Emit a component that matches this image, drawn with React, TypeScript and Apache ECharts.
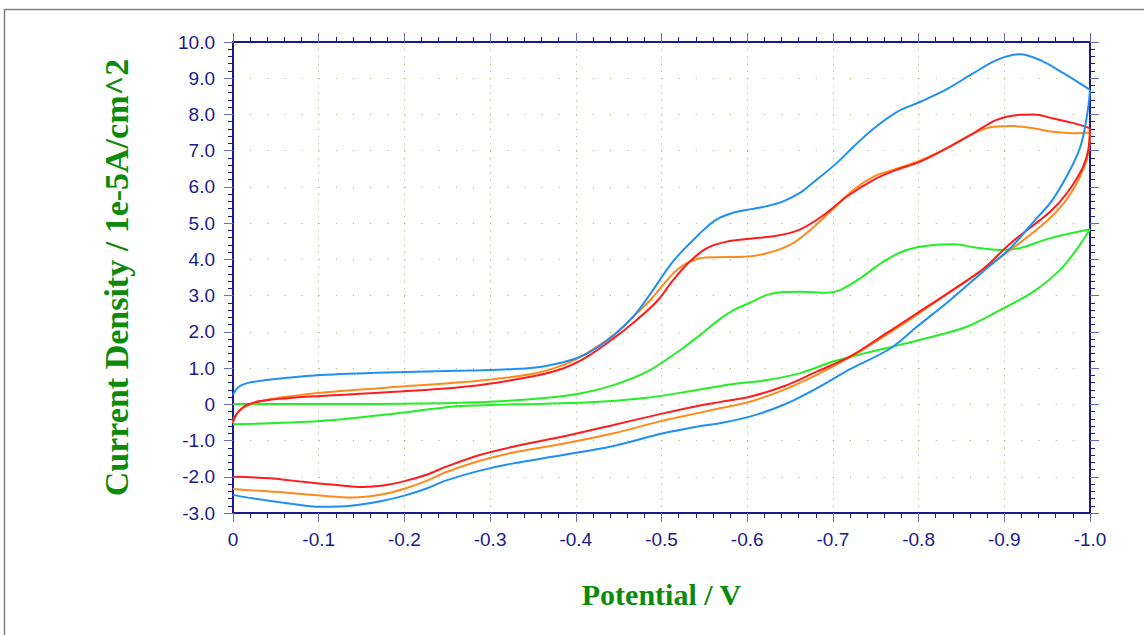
import React, { useEffect, useRef } from "react";
import * as echarts from "echarts";

type Pt = [number, number];

// Cyclic voltammograms: [potential (V), current density (1e-5 A/cm^2)]
// Each scan is split into the forward sweep (0 -> -1.0 V) and the return sweep (-1.0 -> 0 V).

const blueForward: Pt[] = [
  [0, 0.26], [-0.004, 0.42], [-0.01, 0.53], [-0.024, 0.62], [-0.063, 0.73], [-0.102, 0.81],
  [-0.179, 0.88], [-0.273, 0.93], [-0.347, 1.0], [-0.385, 1.16], [-0.413, 1.4], [-0.444, 1.9],
  [-0.467, 2.42], [-0.487, 3.05], [-0.514, 3.96], [-0.545, 4.72], [-0.564, 5.1], [-0.584, 5.29],
  [-0.603, 5.38], [-0.623, 5.47], [-0.642, 5.6], [-0.662, 5.84], [-0.677, 6.12], [-0.704, 6.65],
  [-0.724, 7.11], [-0.747, 7.6], [-0.774, 8.06], [-0.802, 8.35], [-0.833, 8.7], [-0.864, 9.14],
  [-0.891, 9.5], [-0.918, 9.66], [-0.942, 9.5], [-0.969, 9.14], [-1.0, 8.68],
];
const blueReturn: Pt[] = [
  [-1.0, 8.68], [-0.998, 8.21], [-0.992, 7.39], [-0.986, 6.93], [-0.973, 6.3], [-0.955, 5.6],
  [-0.936, 5.09], [-0.907, 4.31], [-0.876, 3.68], [-0.837, 2.88], [-0.798, 2.14], [-0.767, 1.54],
  [-0.72, 0.97], [-0.681, 0.44], [-0.642, -0.02], [-0.603, -0.34], [-0.568, -0.52], [-0.545, -0.6],
  [-0.502, -0.8], [-0.444, -1.15], [-0.385, -1.4], [-0.327, -1.63], [-0.288, -1.83], [-0.249, -2.1],
  [-0.225, -2.33], [-0.2, -2.52], [-0.175, -2.66], [-0.14, -2.79], [-0.102, -2.83], [-0.063, -2.73],
  [-0.024, -2.6], [0, -2.5],
];

const redForward: Pt[] = [
  [0, -0.48], [-0.0035, -0.3], [-0.008, -0.16], [-0.016, -0.02], [-0.032, 0.09], [-0.063, 0.17],
  [-0.102, 0.23], [-0.179, 0.33], [-0.273, 0.49], [-0.347, 0.76], [-0.385, 0.99], [-0.413, 1.31],
  [-0.444, 1.82], [-0.471, 2.33], [-0.495, 2.85], [-0.514, 3.44], [-0.533, 3.94], [-0.553, 4.31],
  [-0.576, 4.49], [-0.603, 4.57], [-0.634, 4.65], [-0.662, 4.83], [-0.689, 5.22], [-0.716, 5.73],
  [-0.747, 6.19], [-0.774, 6.47], [-0.802, 6.7], [-0.833, 7.07], [-0.864, 7.48], [-0.891, 7.85],
  [-0.918, 7.99], [-0.934, 8.0], [-0.957, 7.89], [-0.981, 7.76], [-1.0, 7.62],
];
const redReturn: Pt[] = [
  [-1.0, 7.62], [-0.998, 7.02], [-0.992, 6.56], [-0.98, 6.06], [-0.968, 5.68], [-0.955, 5.35],
  [-0.942, 5.09], [-0.907, 4.44], [-0.876, 3.75], [-0.837, 3.11], [-0.798, 2.51], [-0.759, 1.91],
  [-0.72, 1.32], [-0.681, 0.9], [-0.642, 0.49], [-0.603, 0.21], [-0.568, 0.06], [-0.545, -0.03],
  [-0.502, -0.25], [-0.444, -0.57], [-0.385, -0.89], [-0.327, -1.17], [-0.288, -1.4],
  [-0.249, -1.72], [-0.225, -1.95], [-0.2, -2.12], [-0.175, -2.24], [-0.152, -2.28],
  [-0.121, -2.23], [-0.082, -2.14], [-0.043, -2.04], [0, -2.0],
];

const orangeForward: Pt[] = [
  [0, -0.52], [-0.002, -0.34], [-0.011, -0.11], [-0.024, 0.03], [-0.043, 0.14], [-0.063, 0.21],
  [-0.102, 0.32], [-0.179, 0.46], [-0.273, 0.62], [-0.347, 0.83], [-0.385, 1.08], [-0.413, 1.41],
  [-0.444, 1.91], [-0.467, 2.42], [-0.487, 2.88], [-0.514, 3.62], [-0.529, 3.89], [-0.545, 4.03],
  [-0.564, 4.06], [-0.596, 4.07], [-0.623, 4.17], [-0.65, 4.4], [-0.669, 4.72], [-0.697, 5.32],
  [-0.724, 5.92], [-0.747, 6.28], [-0.77, 6.47], [-0.802, 6.73], [-0.833, 7.07], [-0.864, 7.48],
  [-0.887, 7.66], [-0.91, 7.68], [-0.934, 7.62], [-0.957, 7.52], [-0.981, 7.48], [-1.0, 7.5],
];
const orangeReturn: Pt[] = [
  [-1.0, 7.5], [-0.999, 7.11], [-0.996, 6.74], [-0.99, 6.38], [-0.983, 6.03], [-0.97, 5.57],
  [-0.951, 5.09], [-0.915, 4.4], [-0.876, 3.73], [-0.837, 3.11], [-0.798, 2.47], [-0.759, 1.87],
  [-0.72, 1.3], [-0.681, 0.81], [-0.642, 0.39], [-0.603, 0.07], [-0.568, -0.11], [-0.545, -0.23],
  [-0.502, -0.45], [-0.444, -0.8], [-0.385, -1.09], [-0.327, -1.33], [-0.288, -1.56],
  [-0.249, -1.87], [-0.225, -2.12], [-0.2, -2.33], [-0.175, -2.48], [-0.14, -2.57],
  [-0.102, -2.52], [-0.063, -2.44], [-0.024, -2.38], [0, -2.34],
];

const greenForward: Pt[] = [
  [0, 0.01], [-0.172, 0.01], [-0.273, 0.05], [-0.347, 0.14], [-0.405, 0.3], [-0.444, 0.53],
  [-0.483, 0.9], [-0.522, 1.5], [-0.545, 1.91], [-0.568, 2.35], [-0.584, 2.6], [-0.603, 2.8],
  [-0.623, 3.02], [-0.642, 3.1], [-0.662, 3.11], [-0.693, 3.08], [-0.709, 3.16], [-0.732, 3.48],
  [-0.759, 3.94], [-0.786, 4.26], [-0.817, 4.4], [-0.841, 4.42], [-0.868, 4.32], [-0.895, 4.26],
  [-0.918, 4.31], [-0.953, 4.58], [-1.0, 4.83],
];
const greenReturn: Pt[] = [
  [-1.0, 4.83], [-0.984, 4.26], [-0.965, 3.71], [-0.934, 3.11], [-0.895, 2.6], [-0.856, 2.14],
  [-0.817, 1.87], [-0.778, 1.64], [-0.739, 1.42], [-0.7, 1.18], [-0.662, 0.86], [-0.623, 0.67],
  [-0.584, 0.56], [-0.545, 0.41], [-0.483, 0.18], [-0.405, 0.04], [-0.327, 0.0], [-0.273, -0.04],
  [-0.249, -0.08], [-0.179, -0.28], [-0.102, -0.46], [0, -0.55],
];

const BLUE = "#1e8ff5";
const RED = "#ff1c1c";
const ORANGE = "#ff8a1c";
const GREEN = "#24ee24";

const NAVY = "#1b1b8c";
const TICK_MAJOR = "#6b6bc4";
const GRID_DOT = "#a4b46c";
const TITLE_GREEN = "#0b8a0b";

const X_MIN = -1;
const X_MAX = 0;
const X_STEP = 0.1;
const Y_MIN = -3;
const Y_MAX = 10;
const Y_STEP = 1;

const GRID = { left: 233, top: 42, right: 54, bottom: 122 };

const tickText = (v: number) => (Math.abs(v) < 1e-9 ? "0" : v.toFixed(1));

const labelFont = {
  color: NAVY,
  fontSize: 19,
  fontFamily: "'Liberation Sans', Arial, sans-serif",
};

const titleFont = {
  color: TITLE_GREEN,
  fontSize: 30,
  fontWeight: "bold" as const,
  fontFamily: "'Liberation Serif', 'Times New Roman', serif",
};

function axisFrame(showLabels: boolean) {
  return {
    axisLine: { show: true, onZero: false, lineStyle: { color: NAVY, width: 2 } },
    axisTick: { show: true, inside: false, length: 9, lineStyle: { color: TICK_MAJOR, width: 1 } },
    minorTick: { show: true, splitNumber: 5, length: 5, lineStyle: { color: NAVY, width: 1 } },
    axisLabel: { show: showLabels, ...labelFont, formatter: tickText },
  };
}

export default function App() {
  const ref = useRef<HTMLDivElement>(null);

  useEffect(() => {
    if (!ref.current) return;
    const chart = echarts.init(ref.current, null, { renderer: "svg" });

    const line = (data: Pt[], color: string) => ({
      type: "line",
      data,
      xAxisIndex: 0,
      yAxisIndex: 0,
      symbol: "none",
      showSymbol: false,
      smooth: 0.35,
      silent: true,
      lineStyle: { color, width: 2 },
    });

    const xBase = { type: "value", min: X_MIN, max: X_MAX, interval: X_STEP, inverse: true };
    const yBase = { type: "value", min: Y_MIN, max: Y_MAX, interval: Y_STEP };

    chart.setOption({
      animation: false,
      backgroundColor: "#ffffff",
      grid: { ...GRID, containLabel: false },
      graphic: [
        {
          type: "rect",
          silent: true,
          z: -10,
          shape: { x: 4.5, y: 9.5, width: 1400, height: 900 },
          style: { fill: "none", stroke: "#808080", lineWidth: 1.5 },
        },
      ],
      xAxis: [
        {
          ...xBase,
          position: "bottom",
          ...axisFrame(true),
          axisLabel: { ...axisFrame(true).axisLabel, margin: 17 },
          splitLine: { show: true, lineStyle: { color: GRID_DOT, width: 1, type: [1, 6.246] } },
          name: "Potential / V",
          nameLocation: "middle",
          nameGap: 66,
          nameTextStyle: titleFont,
        },
        {
          ...xBase,
          position: "top",
          ...axisFrame(false),
          splitLine: { show: false },
        },
      ],
      yAxis: [
        {
          ...yBase,
          position: "left",
          ...axisFrame(true),
          axisLabel: { ...axisFrame(true).axisLabel, margin: 18 },
          splitLine: { show: true, lineStyle: { color: GRID_DOT, width: 1, type: [1, 16.14] } },
          name: "Current Density / 1e-5A/cm^2",
          nameLocation: "middle",
          nameGap: 100,
          nameTextStyle: { ...titleFont, fontSize: 34 },
        },
        {
          ...yBase,
          position: "right",
          ...axisFrame(false),
          splitLine: { show: false },
        },
      ],
      series: [
        line(greenForward, GREEN),
        line(greenReturn, GREEN),
        line(orangeForward, ORANGE),
        line(orangeReturn, ORANGE),
        line(redForward, RED),
        line(redReturn, RED),
        line(blueForward, BLUE),
        line(blueReturn, BLUE),
      ],
    });

    return () => chart.dispose();
  }, []);

  return (
    <div
      ref={ref}
      style={{ position: "absolute", left: 0, top: 0, width: 1144, height: 635, background: "#ffffff" }}
    />
  );
}
